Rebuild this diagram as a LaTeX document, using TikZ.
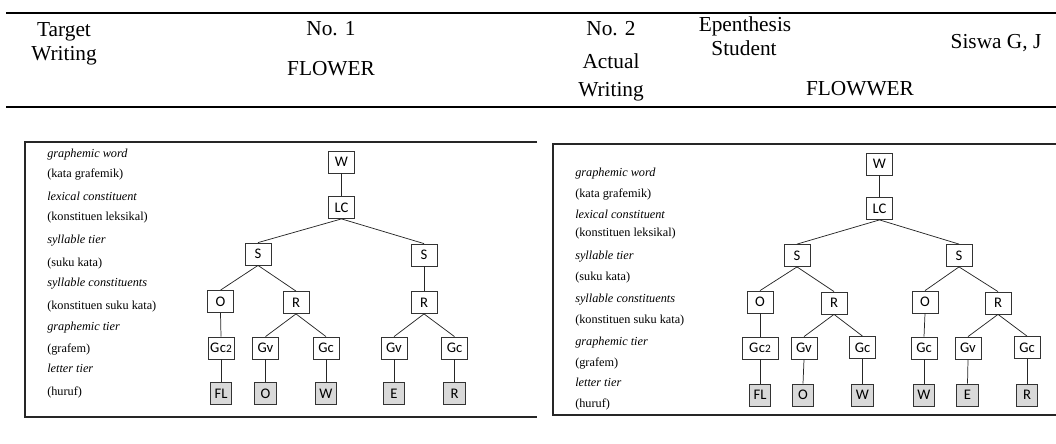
\documentclass[tikz,border=0pt]{standalone}
\usepackage{fontspec}
\setmainfont{Liberation Serif}
\newfontfamily\calib{Carlito}
\begin{document}
\begin{tikzpicture}[x=0.75pt,y=-0.75pt,
  nd/.style={draw=black!80, line width=0.6pt, fill=white, font=\calib\fontsize{11}{13}\selectfont, minimum width=19.5pt, minimum height=16.5pt, inner sep=1.5pt},
  lf/.style={nd, fill=black!15, minimum width=16pt},
  edge/.style={line width=0.55pt, draw=black!85},
  lbl/.style={anchor=base west, font=\fontsize{9.2}{11}\selectfont, inner sep=0pt},
  lbli/.style={lbl, font=\fontsize{9.2}{11}\selectfont\itshape},
  hd/.style={anchor=base, font=\fontsize{16}{19}\selectfont, inner sep=0pt},
  hrule/.style={line width=1.6pt, draw=black},
  panel/.style={line width=1.4pt, draw=black!85}]
\useasboundingbox (0,0) rectangle (1056,443);

% header
\coordinate (t1) at (6,13);  \coordinate (t2) at (1056,13);
\coordinate (b1) at (6,107); \coordinate (b2) at (1056,107);
\draw[hrule] (t1) -- (t2);
\draw[hrule] (b1) -- (b2);
\node[hd] (h1) at (64,36) {Target};
\node[hd] (h2) at (64,60) {Writing};
\node[hd] (h3) at (331,35) {No. 1};
\node[hd] (h4) at (331,75) {FLOWER};
\node[hd] (h5) at (611,35) {No. 2};
\node[hd] (h6) at (611,68) {Actual};
\node[hd] (h7) at (611,96) {Writing};
\node[hd] (h8) at (745,31) {Epenthesis};
\node[hd] (h9) at (744,55) {Student};
\node[hd] (h10) at (996,48) {Siswa G, J};
\node[hd] (h11) at (860,95) {FLOWWER};

% left panel frame (right side cropped)
\coordinate (p1) at (537,142); \coordinate (p2) at (25,142);
\coordinate (p3) at (25,417);  \coordinate (p4) at (537,417);
\draw[panel] (p1) -- (p2) -- (p3) -- (p4);

% left labels
\node[lbli] (la1) at (47,157) {graphemic word};
\node[lbl]  (la2) at (47,177) {(kata grafemik)};
\node[lbli] (la3) at (47,200) {lexical constituent};
\node[lbl]  (la4) at (47,220) {(konstituen leksikal)};
\node[lbli] (la5) at (47,243) {syllable tier};
\node[lbl]  (la6) at (47,266) {(suku kata)};
\node[lbli] (la7) at (47,286) {syllable constituents};
\node[lbl]  (la8) at (47,309) {(konstituen suku kata)};
\node[lbli] (la9) at (47,330) {graphemic tier};
\node[lbl]  (la10) at (47,352) {(grafem)};
\node[lbli] (la11) at (47,372) {letter tier};
\node[lbl]  (la12) at (47,395) {(huruf)};

% left tree
\node[nd] (aW) at (341.5,162) {W};
\node[nd] (aLC) at (341.5,207.5) {LC};
\node[nd] (aS1) at (258,254) {S};
\node[nd] (aS2) at (424,255) {S};
\node[nd] (aO1) at (220.5,301.5) {O};
\node[nd] (aR1) at (296,302.5) {R};
\node[nd] (aR2) at (424,302.5) {R};
\node[nd] (aG1) at (221,348) {G\kern0.3pt c{\fontsize{8.5}{10}\selectfont 2}};
\node[nd] (aG2) at (265.5,348) {Gv};
\node[nd] (aG3) at (326,348) {Gc};
\node[nd] (aG4) at (394,348) {Gv};
\node[nd] (aG5) at (454.5,348) {Gc};
\node[lf] (aL1) at (221,393.5) {FL};
\node[lf] (aL2) at (265.5,393.5) {O};
\node[lf] (aL3) at (326,393.5) {W};
\node[lf] (aL4) at (394,393.5) {E};
\node[lf] (aL5) at (454.5,393.5) {R};
\draw[edge] (aW.south) -- (aLC.north);
\draw[edge] (aLC.south) -- (aS1.north);
\draw[edge] (aLC.south) -- (aS2.north);
\draw[edge] (aS1.south) -- (aO1.north);
\draw[edge] (aS1.south) -- (aR1.north);
\draw[edge] (aS2.south) -- (aR2.north);
\draw[edge] (aO1.south) -- (aG1.north);
\draw[edge] (aR1.south) -- (aG2.north);
\draw[edge] (aR1.south) -- (aG3.north);
\draw[edge] (aR2.south) -- (aG4.north);
\draw[edge] (aR2.south) -- (aG5.north);
\draw[edge] (aG1.south) -- (aL1.north);
\draw[edge] (aG2.south) -- (aL2.north);
\draw[edge] (aG3.south) -- (aL3.north);
\draw[edge] (aG4.south) -- (aL4.north);
\draw[edge] (aG5.south) -- (aL5.north);

% right panel frame (right side beyond the picture)
\coordinate (q1) at (1070,144); \coordinate (q2) at (553,144);
\coordinate (q3) at (553,415);  \coordinate (q4) at (1070,415);
\draw[panel, line width=1.2pt] (q1) -- (q2) -- (q3) -- (q4);

% right labels
\node[lbli] (lb1) at (575,176) {graphemic word};
\node[lbl]  (lb2) at (575,197) {(kata grafemik)};
\node[lbli] (lb3) at (575,218) {lexical constituent};
\node[lbl]  (lb4) at (575,236) {(konstituen leksikal)};
\node[lbli] (lb5) at (575,259) {syllable tier};
\node[lbl]  (lb6) at (575,280) {(suku kata)};
\node[lbli] (lb7) at (575,302) {syllable constituents};
\node[lbl]  (lb8) at (575,323) {(konstituen suku kata)};
\node[lbli] (lb9) at (575,345) {graphemic tier};
\node[lbl]  (lb10) at (575,366) {(grafem)};
\node[lbli] (lb11) at (575,386) {letter tier};
\node[lbl]  (lb12) at (575,407) {(huruf)};

% right tree
\node[nd] (bW) at (879.5,164) {W};
\node[nd] (bLC) at (879.5,208.5) {LC};
\node[nd] (bS1) at (797,255.5) {S};
\node[nd] (bS2) at (959,255.5) {S};
\node[nd] (bO1) at (760,302) {O};
\node[nd] (bR1) at (834,303) {R};
\node[nd] (bO2) at (925,302) {O};
\node[nd] (bR2) at (998,303) {R};
\node[nd, minimum width=27pt] (bG1) at (760,348) {G\kern0.3pt c{\fontsize{8.5}{10}\selectfont 2}};
\node[nd] (bG2) at (804,348) {Gv};
\node[nd] (bG3) at (862.5,347.5) {Gc};
\node[nd] (bG4) at (924,348) {Gc};
\node[nd] (bG5) at (968,348) {Gv};
\node[nd] (bG6) at (1027,347.5) {Gc};
\node[lf] (bL1) at (760,395) {FL};
\node[lf] (bL2) at (803,395) {O};
\node[lf] (bL3) at (862.5,395) {W};
\node[lf] (bL4) at (924,395) {W};
\node[lf] (bL5) at (967.5,395) {E};
\node[lf] (bL6) at (1027,395) {R};
\draw[edge] (bW.south) -- (bLC.north);
\draw[edge] (bLC.south) -- (bS1.north);
\draw[edge] (bLC.south) -- (bS2.north);
\draw[edge] (bS1.south) -- (bO1.north);
\draw[edge] (bS1.south) -- (bR1.north);
\draw[edge] (bS2.south) -- (bO2.north);
\draw[edge] (bS2.south) -- (bR2.north);
\draw[edge] (bO1.south) -- (bG1.north);
\draw[edge] (bR1.south) -- (bG2.north);
\draw[edge] (bR1.south) -- (bG3.north);
\draw[edge] (bO2.south) -- (bG4.north);
\draw[edge] (bR2.south) -- (bG5.north);
\draw[edge] (bR2.south) -- (bG6.north);
\draw[edge] (bG1.south) -- (bL1.north);
\draw[edge] (bG2.south) -- (bL2.north);
\draw[edge] (bG3.south) -- (bL3.north);
\draw[edge] (bG4.south) -- (bL4.north);
\draw[edge] (bG5.south) -- (bL5.north);
\draw[edge] (bG6.south) -- (bL6.north);
\end{tikzpicture}
\end{document}
